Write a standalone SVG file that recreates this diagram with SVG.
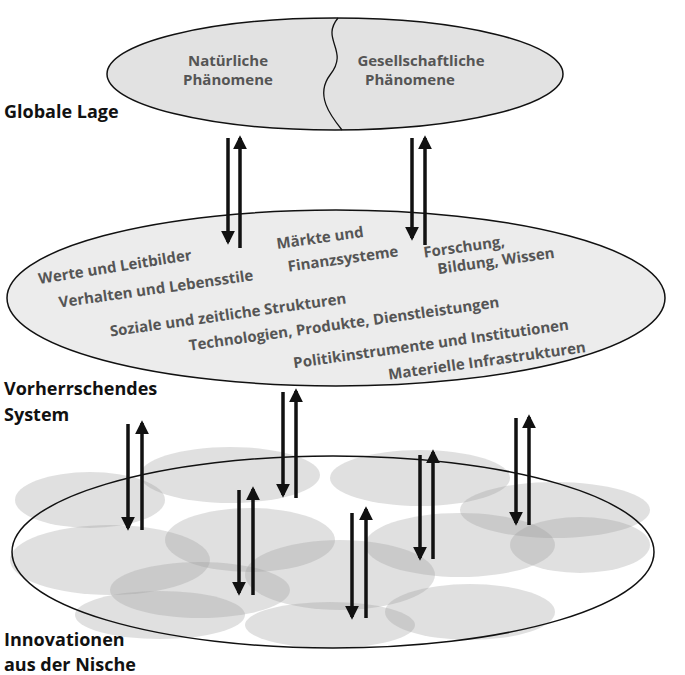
<svg xmlns="http://www.w3.org/2000/svg" width="685" height="675" viewBox="0 0 685 675">
<style>
.lbl{font-family:"Open Sans","Liberation Sans",sans-serif;font-weight:bold;font-size:18px;fill:#111}
.t{font-family:"Open Sans","Liberation Sans",sans-serif;font-weight:bold;font-size:15px;fill:#555}
.b{fill:#999;fill-opacity:0.3}
.ar{stroke:#111;stroke-width:3.5;fill:none}
</style>
<defs>
<marker id="h" viewBox="0 0 10 10" refX="8" refY="5" markerWidth="4" markerHeight="5" markerUnits="strokeWidth" orient="auto"><path d="M0,0 L10,5 L0,10z" fill="#111"/></marker>
</defs>
<rect width="685" height="675" fill="#fff"/>
<g id="niche">
<ellipse class="b" cx="90" cy="500" rx="75" ry="28"/>
<ellipse class="b" cx="230" cy="475" rx="90" ry="28"/>
<ellipse class="b" cx="420" cy="478" rx="90" ry="28"/>
<ellipse class="b" cx="555" cy="510" rx="95" ry="28"/>
<ellipse class="b" cx="110" cy="560" rx="100" ry="35"/>
<ellipse class="b" cx="250" cy="540" rx="85" ry="32"/>
<ellipse class="b" cx="460" cy="545" rx="95" ry="32"/>
<ellipse class="b" cx="580" cy="545" rx="70" ry="28"/>
<ellipse class="b" cx="200" cy="590" rx="90" ry="28"/>
<ellipse class="b" cx="340" cy="575" rx="95" ry="35"/>
<ellipse class="b" cx="160" cy="615" rx="85" ry="24"/>
<ellipse class="b" cx="330" cy="625" rx="85" ry="23"/>
<ellipse class="b" cx="470" cy="612" rx="85" ry="28"/>
<ellipse cx="333" cy="552" rx="321" ry="96" fill="none" stroke="#111" stroke-width="1.5"/>
</g>
<g id="global">
<ellipse cx="335" cy="74" rx="228" ry="56" fill="#e2e2e2" stroke="#111" stroke-width="1.5"/>
<path d="M338,18 C320,40 350,50 330,75 C315,95 330,115 342,130" fill="none" stroke="#111" stroke-width="1.3"/>
<text class="t" x="228" y="66" text-anchor="middle">Natürliche</text>
<text class="t" x="228" y="85" text-anchor="middle">Phänomene</text>
<text class="t" x="421" y="66" text-anchor="middle">Gesellschaftliche</text>
<text class="t" x="410" y="85" text-anchor="middle">Phänomene</text>
</g>
<g id="system">
<ellipse cx="336" cy="298" rx="329" ry="88" fill="#ececec" stroke="#111" stroke-width="1.5"/>
<text class="t" x="115" y="272" text-anchor="middle" transform="rotate(-9 115 267)">Werte und Leitbilder</text>
<text class="t" x="156" y="294" text-anchor="middle" transform="rotate(-8 156 289)">Verhalten und Lebensstile</text>
<text class="t" x="228" y="320" text-anchor="middle" transform="rotate(-8 228 315)">Soziale und zeitliche Strukturen</text>
<text class="t" x="344" y="329" text-anchor="middle" transform="rotate(-8 344 324)">Technologien, Produkte, Dienstleistungen</text>
<text class="t" x="431" y="349" text-anchor="middle" transform="rotate(-8 431 344)">Politikinstrumente und Institutionen</text>
<text class="t" x="487" y="366" text-anchor="middle" transform="rotate(-8 487 361)">Materielle Infrastrukturen</text>
<text class="t" x="320" y="243" text-anchor="middle" transform="rotate(-8 320 238)">Märkte und</text>
<text class="t" x="343" y="264" text-anchor="middle" transform="rotate(-8 343 259)">Finanzsysteme</text>
<text class="t" x="464" y="252" text-anchor="middle" transform="rotate(-8 464 247)">Forschung,</text>
<text class="t" x="496" y="266" text-anchor="middle" transform="rotate(-8 496 261)">Bildung, Wissen</text>
</g>
<g id="labels">
<text class="lbl" x="4" y="118">Globale Lage</text>
<text class="lbl" x="4" y="395">Vorherrschendes</text>
<text class="lbl" x="4" y="421">System</text>
<text class="lbl" x="4" y="646">Innovationen</text>
<text class="lbl" x="4" y="671">aus der Nische</text>
</g>
<g id="connectors" class="ar">
<path marker-end="url(#h)" d="M228,138 V242"/><path marker-end="url(#h)" d="M240,248 V138"/>
<path marker-end="url(#h)" d="M412,138 V238"/><path marker-end="url(#h)" d="M425,245 V138"/>
<path marker-end="url(#h)" d="M283,392 V495"/><path marker-end="url(#h)" d="M296,498 V391"/>
<path marker-end="url(#h)" d="M128,424 V528"/><path marker-end="url(#h)" d="M142,530 V423"/>
<path marker-end="url(#h)" d="M516,418 V523"/><path marker-end="url(#h)" d="M529,525 V417"/>
<path marker-end="url(#h)" d="M239,490 V593"/><path marker-end="url(#h)" d="M253,595 V489"/>
<path marker-end="url(#h)" d="M352,513 V617"/><path marker-end="url(#h)" d="M366,618 V509"/>
<path marker-end="url(#h)" d="M420,455 V558"/><path marker-end="url(#h)" d="M433,559 V452"/>
</g>
</svg>
